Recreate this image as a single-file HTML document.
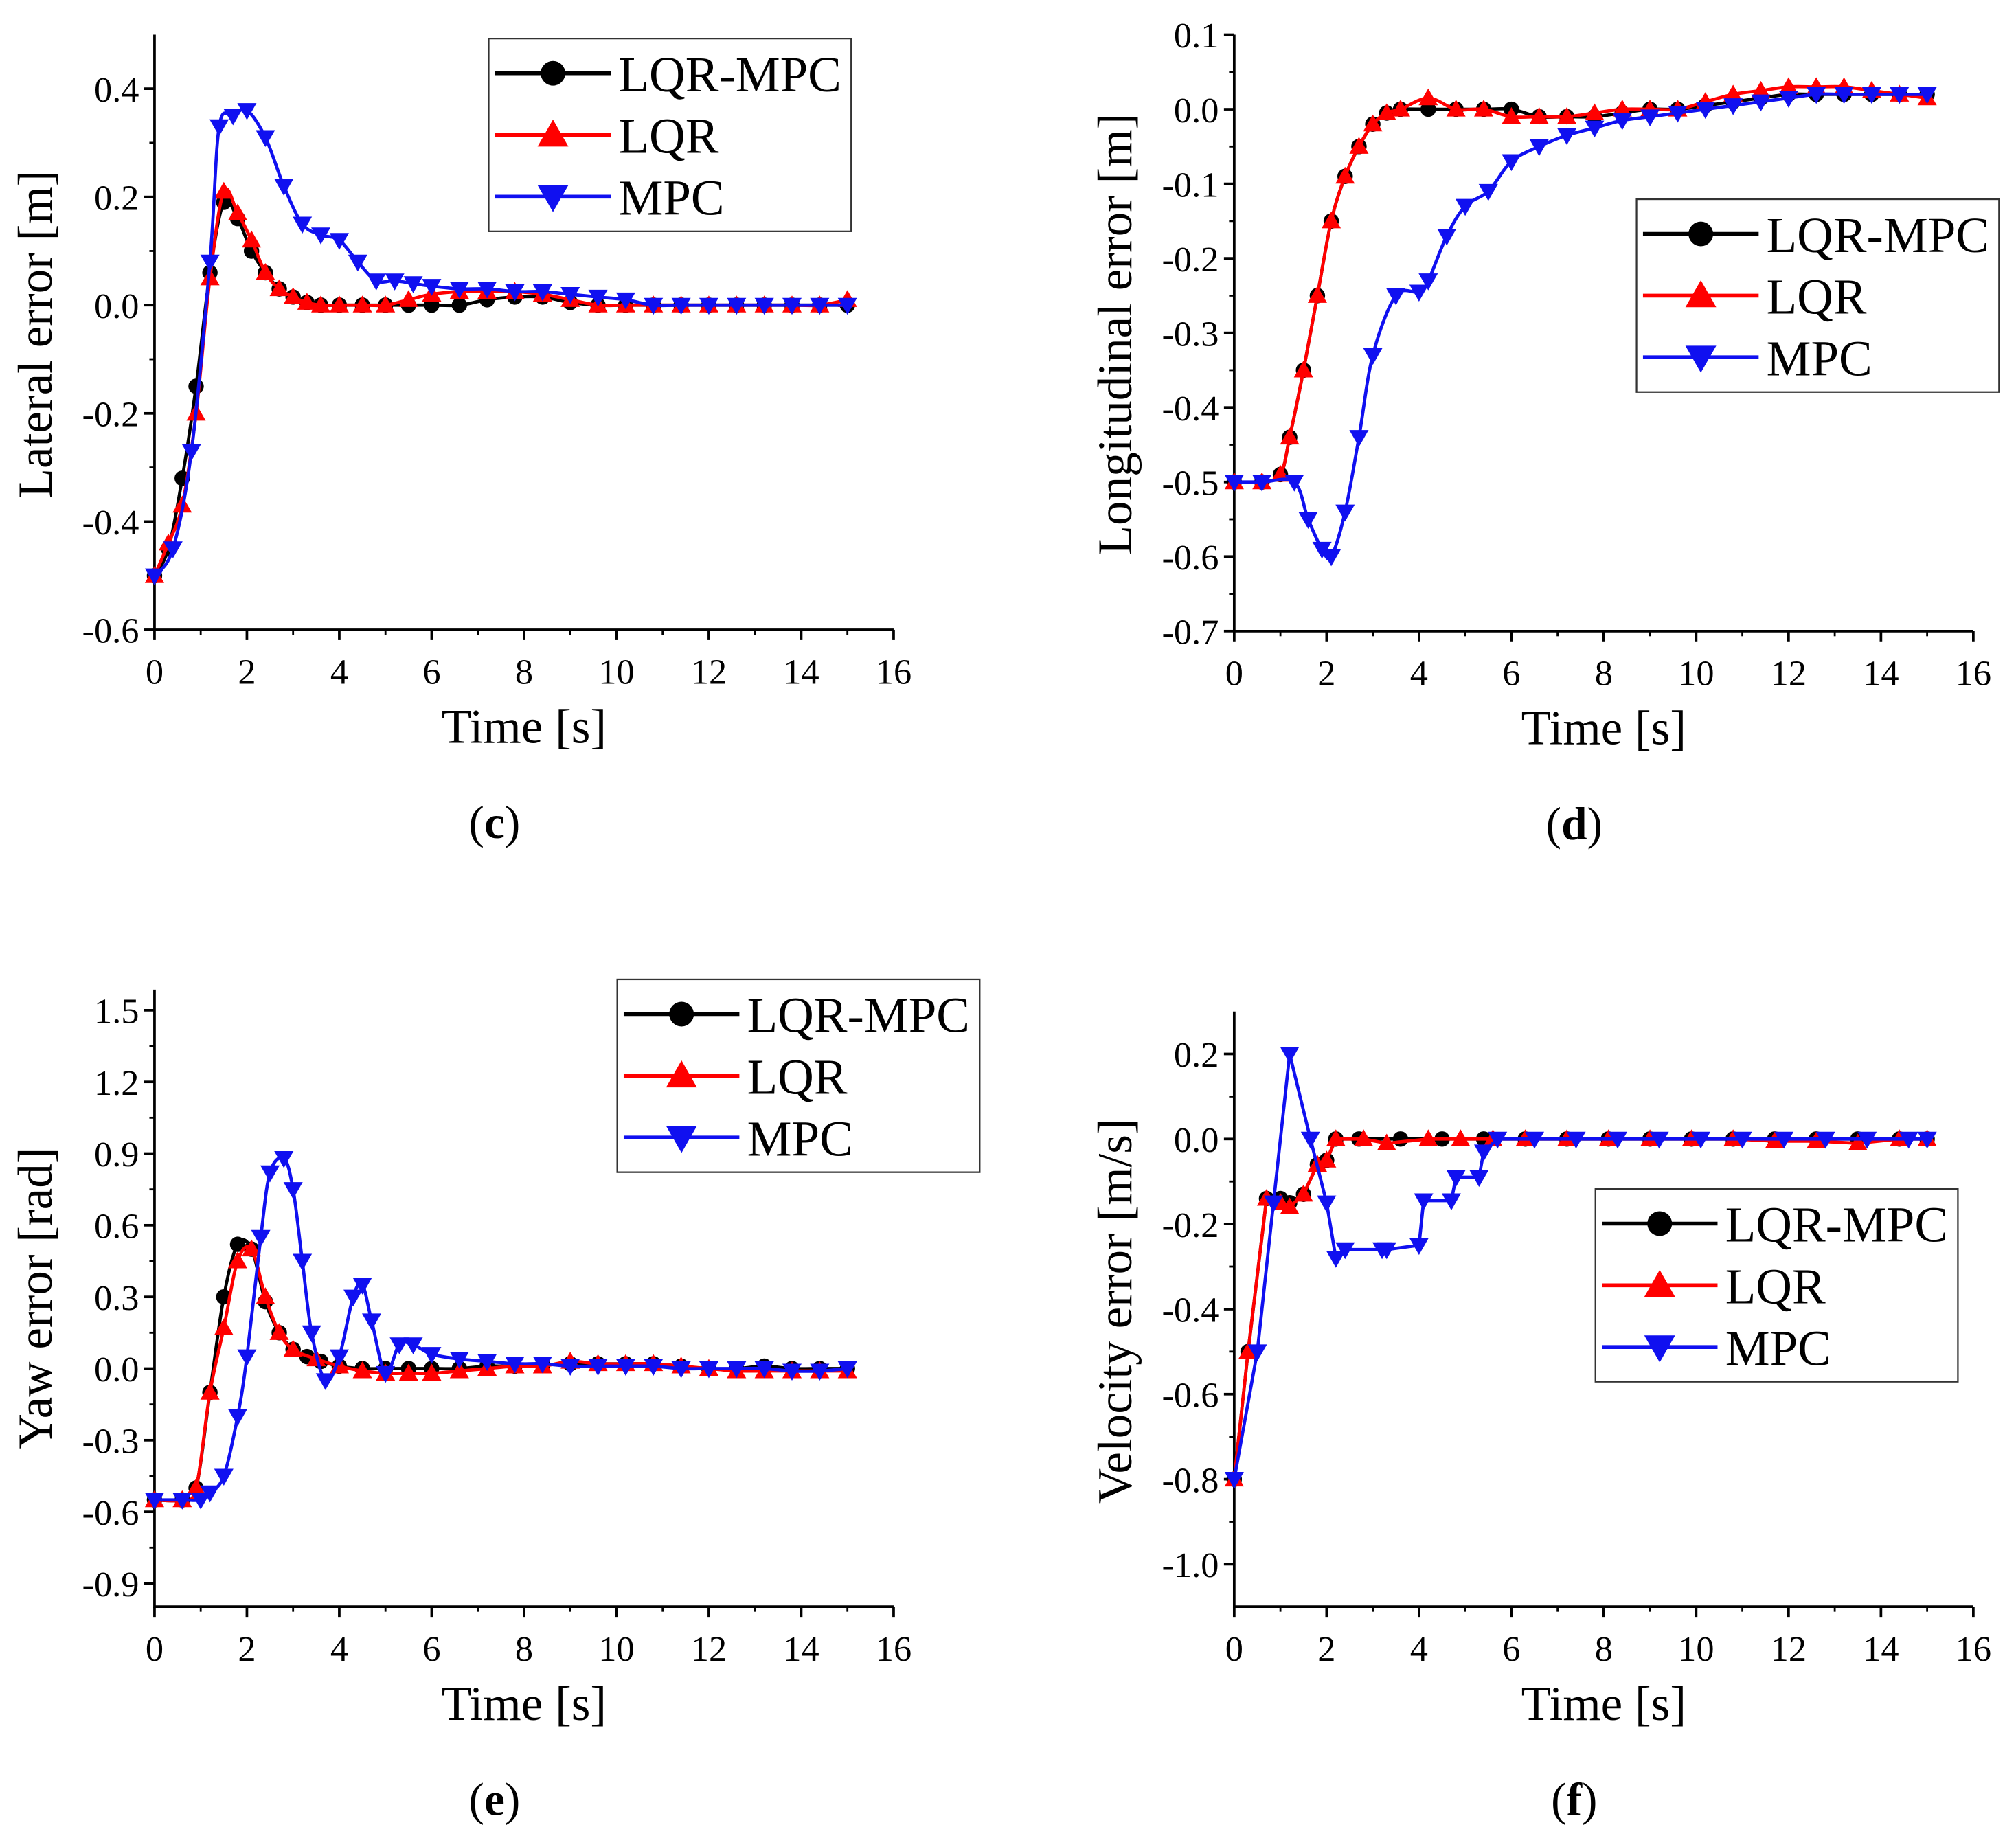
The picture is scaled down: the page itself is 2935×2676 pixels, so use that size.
<!DOCTYPE html>
<html><head><meta charset="utf-8"><style>
html,body{margin:0;padding:0;background:#fff;}
svg{display:block;font-family:"Liberation Serif",serif;}
</style></head><body>
<svg id="fig" width="2935" height="2676" viewBox="0 0 1568 1430" xmlns="http://www.w3.org/2000/svg"></svg>
<script>
// ---------- data ----------
const cBlackT=[0,0.3,0.6,0.9,1.2,1.5,1.8,2.1,2.4,2.7,3,3.3,3.6,4,4.5,5,5.5,6,6.6,7.2,7.8,8.4,9,9.6,10.2,10.8,11.4,12,12.6,13.2,13.8,14.4,15];
const cBlackV=[-0.5,-0.45,-0.32,-0.15,0.06,0.19,0.16,0.1,0.06,0.03,0.015,0.005,0,0,0,0,0,0,0,0.01,0.015,0.015,0.005,0,0,0,0,0,0,0,0,0,0];
const cRedT=[0,0.3,0.6,0.9,1.2,1.5,1.8,2.1,2.4,2.7,3,3.3,3.6,4,4.5,5,5.5,6,6.6,7.2,7.8,8.4,9,9.6,10.2,10.8,11.4,12,12.6,13.2,13.8,14.4,15];
const cRedV=[-0.5,-0.44,-0.37,-0.2,0.05,0.21,0.17,0.12,0.06,0.03,0.015,0.005,0,0,0,0,0.01,0.02,0.025,0.025,0.025,0.02,0.01,0,0,0,0,0,0,0,0,0,0.01];
const cBlueT=[0,0.4,0.8,1.2,1.4,1.7,2,2.4,2.8,3.2,3.6,4,4.4,4.8,5.2,5.6,6,6.6,7.2,7.8,8.4,9,9.6,10.2,10.8,11.4,12,12.6,13.2,13.8,14.4,15];
const cBlueV=[-0.5,-0.45,-0.27,0.08,0.33,0.35,0.36,0.31,0.22,0.15,0.13,0.12,0.08,0.045,0.045,0.04,0.035,0.03,0.03,0.025,0.025,0.02,0.015,0.01,0,0,0,0,0,0,0,0];

const dBlackT=[0,0.6,1.0,1.2,1.5,1.8,2.1,2.4,2.7,3,3.3,3.6,4.2,4.8,5.4,6,6.6,7.2,7.8,8.4,9,9.6,10.2,10.8,11.4,12,12.6,13.2,13.8,14.4,15];
const dBlackV=[-0.5,-0.5,-0.49,-0.44,-0.35,-0.25,-0.15,-0.09,-0.05,-0.02,-0.005,0,0,0,0,0,-0.01,-0.01,-0.01,-0.005,0,0,0.005,0.01,0.015,0.02,0.02,0.02,0.02,0.02,0.02];
const dRedT=[0,0.6,1.0,1.2,1.5,1.8,2.1,2.4,2.7,3,3.3,3.6,4.2,4.8,5.4,6,6.6,7.2,7.8,8.4,9,9.6,10.2,10.8,11.4,12,12.6,13.2,13.8,14.4,15];
const dRedV=[-0.5,-0.5,-0.49,-0.44,-0.35,-0.25,-0.15,-0.09,-0.05,-0.02,-0.005,0,0.015,0,0,-0.01,-0.01,-0.01,-0.005,0,0,0,0.01,0.02,0.025,0.03,0.03,0.03,0.025,0.02,0.015];
const dBlueT=[0,0.6,1.3,1.6,1.9,2.1,2.4,2.7,3,3.5,4,4.2,4.6,5,5.5,6,6.6,7.2,7.8,8.4,9,9.6,10.2,10.8,11.4,12,12.6,13.2,13.8,14.4,15];
const dBlueV=[-0.5,-0.5,-0.5,-0.55,-0.59,-0.6,-0.54,-0.44,-0.33,-0.25,-0.245,-0.23,-0.17,-0.13,-0.11,-0.07,-0.05,-0.035,-0.025,-0.015,-0.01,-0.005,0,0.005,0.01,0.015,0.02,0.02,0.02,0.02,0.02];

const eBlackT=[0,0.6,0.9,1.2,1.5,1.8,2.1,2.4,2.7,3,3.3,3.6,4,4.5,5,5.5,6,6.6,7.2,7.8,8.4,9,9.6,10.2,10.8,11.4,12,12.6,13.2,13.8,14.4,15];
const eBlackV=[-0.55,-0.55,-0.5,-0.1,0.3,0.52,0.5,0.28,0.15,0.08,0.05,0.03,0.01,0,0,0,0,0,0.01,0.01,0.015,0.02,0.02,0.02,0.02,0.01,0,0,0.01,0,0,0];
const eRedT=[0,0.6,0.9,1.2,1.5,1.8,2.1,2.4,2.7,3,3.5,4,4.5,5,5.5,6,6.6,7.2,7.8,8.4,9,9.6,10.2,10.8,11.4,12,12.6,13.2,13.8,14.4,15];
const eRedV=[-0.55,-0.55,-0.5,-0.1,0.17,0.45,0.5,0.3,0.15,0.08,0.04,0.01,-0.01,-0.02,-0.02,-0.02,-0.01,0,0.01,0.01,0.03,0.02,0.02,0.02,0.01,0,-0.01,-0.01,-0.01,-0.01,-0.01];
const eBlueT=[0,0.6,1.0,1.2,1.5,1.8,2.0,2.3,2.5,2.8,3.0,3.2,3.4,3.7,4.0,4.3,4.5,4.7,5,5.3,5.6,6,6.6,7.2,7.8,8.4,9,9.6,10.2,10.8,11.4,12,12.6,13.2,13.8,14.4,15];
const eBlueV=[-0.55,-0.55,-0.55,-0.52,-0.45,-0.2,0.05,0.55,0.82,0.88,0.75,0.45,0.15,-0.05,0.05,0.3,0.35,0.2,-0.02,0.1,0.1,0.06,0.04,0.03,0.02,0.02,0.01,0.01,0.01,0.01,0,0,0,0,-0.01,-0.01,0];

const fBlackT=[0,0.3,0.7,1.0,1.2,1.5,1.8,2.0,2.2,2.7,3.6,4.5,5.4,6.3,7.2,8.1,9,9.9,10.8,11.7,12.6,13.5,14.4,15];
const fBlackV=[-0.8,-0.5,-0.14,-0.14,-0.15,-0.13,-0.06,-0.05,0,0,0,0,0,0,0,0,0,0,0,0,0,0,0,0];
const fRedT=[0,0.3,0.7,1.0,1.2,1.5,1.8,2.0,2.2,2.8,3.3,4.2,4.9,5.6,6.3,7.2,8.1,9,9.9,10.8,11.7,12.6,13.5,14.4,15];
const fRedV=[-0.8,-0.5,-0.14,-0.15,-0.16,-0.13,-0.06,-0.05,0,0,-0.01,0,0,0,0,0,0,0,0,0,-0.005,-0.005,-0.01,0,0];
const fBlueT=[0,0.5,0.85,1.2,1.65,2.0,2.2,2.4,3.2,3.3,4.0,4.1,4.7,4.8,5.3,5.4,5.7,6.5,7.4,8.3,9.2,10.1,11,11.9,12.8,13.7,14.6,15];
const fBlueV=[-0.8,-0.5,-0.15,0.2,0.0,-0.15,-0.28,-0.26,-0.26,-0.26,-0.25,-0.145,-0.145,-0.09,-0.09,-0.03,0,0,0,0,0,0,0,0,0,0,0,0];

const xTicks=[0,2,4,6,8,10,12,14,16];
const cYTicks=[-0.6,-0.4,-0.2,0.0,0.2,0.4];
const dYTicks=[-0.7,-0.6,-0.5,-0.4,-0.3,-0.2,-0.1,0.0,0.1];
const eYTicks=[-0.9,-0.6,-0.3,0.0,0.3,0.6,0.9,1.2,1.5];
const fYTicks=[-1.0,-0.8,-0.6,-0.4,-0.2,0.0,0.2];
const seriesNames=["LQR-MPC","LQR","MPC"];

// ---------- rendering ----------
const NS="http://www.w3.org/2000/svg";
const svg=document.getElementById('fig');
function mk(tag,attrs,parent){const e=document.createElementNS(NS,tag);for(const k in attrs)e.setAttribute(k,attrs[k]);(parent||svg).appendChild(e);return e;}
const colors=["#000","#f00","#1010f0"];

function smoothPath(pts,smooth){
  if(!smooth){return "M"+pts.map(p=>p[0].toFixed(2)+","+p[1].toFixed(2)).join("L");}
  let d="M"+pts[0][0]+","+pts[0][1];
  for(let i=0;i<pts.length-1;i++){
    const p0=pts[Math.max(0,i-1)],p1=pts[i],p2=pts[i+1],p3=pts[Math.min(pts.length-1,i+2)];
    const c1=[p1[0]+(p2[0]-p0[0])/6,p1[1]+(p2[1]-p0[1])/6];
    const c2=[p2[0]-(p3[0]-p1[0])/6,p2[1]-(p3[1]-p1[1])/6];
    d+="C"+c1[0].toFixed(2)+","+c1[1].toFixed(2)+" "+c2[0].toFixed(2)+","+c2[1].toFixed(2)+" "+p2[0].toFixed(2)+","+p2[1].toFixed(2);
  }
  return d;
}
function marker(g,type,x,y,col,s){
  let m;
  if(type===0){m=mk('circle',{cx:x,cy:y,r:s*0.8,fill:col},g);}
  else if(type===1){m=mk('polygon',{points:`${x},${y-s} ${x-s},${y+s*0.75} ${x+s},${y+s*0.75}`,fill:col},g);}
  else {m=mk('polygon',{points:`${x},${y+s} ${x-s},${y-s*0.75} ${x+s},${y-s*0.75}`,fill:col},g);}
  return m;
}

function panel(p){
  const g=mk('g',{});
  
  
  const X=t=>p.x0+(t-0)*(p.x1-p.x0)/16;
  const Y=v=>p.yA+(v-p.vA)*(p.yB-p.yA)/(p.vB-p.vA);
  const ax=mk('path',{d:`M${p.x0},${p.top}V${p.bottom}H${p.x1}`,stroke:'#000','stroke-width':2,fill:'none'},g);
  
  
  xTicks.forEach((t,i)=>{
    mk('line',{x1:X(t),x2:X(t),y1:p.bottom,y2:p.bottom+8,stroke:'#000','stroke-width':2},g);
    if(i<xTicks.length-1)mk('line',{x1:X(t+1),x2:X(t+1),y1:p.bottom,y2:p.bottom+4,stroke:'#000','stroke-width':1.5},g);
    const tx=mk('text',{x:X(t),y:p.bottom+42,'font-size':28,'text-anchor':'middle'},g);
    tx.textContent=t;
    
    
  });
  const step=p.ticks[1]-p.ticks[0];
  p.ticks.forEach((v,i)=>{
    mk('line',{x1:p.x0-8,x2:p.x0,y1:Y(v),y2:Y(v),stroke:'#000','stroke-width':2},g);
    if(i<p.ticks.length-1)mk('line',{x1:p.x0-4,x2:p.x0,y1:Y(v+step/2),y2:Y(v+step/2),stroke:'#000','stroke-width':1.5},g);
    const tx=mk('text',{x:p.x0-12,y:Y(v)+10,'font-size':28,'text-anchor':'end'},g);
    tx.textContent=v.toFixed(1);
    
    
  });
  const xt=mk('text',{x:(p.x0+p.x1)/2,y:p.bottom+88,'font-size':38,'text-anchor':'middle'},g);
  xt.textContent='Time [s]';
  
  
  const yt=mk('text',{x:0,y:0,'font-size':38,'text-anchor':'middle',transform:`translate(${p.ylx},${p.yly}) rotate(-90)`},g);
  yt.textContent=p.ylabel;
  
  
  const cap=mk('text',{x:(p.x0+p.x1)/2-23,y:p.bottom+162,'font-size':36,'text-anchor':'middle'},g);
  cap.innerHTML='(<tspan font-weight="bold">'+p.id+'</tspan>)';
  
  
  p.series.forEach((s,k)=>{
    const sg=mk('g',{},g);
    
    
    const pts=s[0].map((t,i)=>[X(t),Y(s[1][i])]);
    mk('path',{d:smoothPath(pts,p.smooth),stroke:colors[k],'stroke-width':2.5,fill:'none'},sg);
    pts.forEach(pt=>{
      const m=marker(sg,k,pt[0],pt[1],colors[k],7.5);
      
      
    });
  });
  const lg=mk('g',{},g);
  
  
  mk('rect',{x:p.lx,y:p.ly,width:282,height:150,fill:'#fff',stroke:'#333','stroke-width':1.2},lg);
  seriesNames.forEach((n,k)=>{
    const yy=p.ly+27+k*48;
    const e=mk('g',{},lg);
    
    
    mk('line',{x1:p.lx+5,x2:p.lx+95,y1:yy,y2:yy,stroke:colors[k],'stroke-width':3},e);
    marker(e,k,p.lx+50,yy,colors[k],12);
    const t=mk('text',{x:p.lx+101,y:yy+14,'font-size':39},e);
    t.textContent=n;
  });
}

panel({id:'c',x0:120,x1:695,top:27,bottom:490,vA:0.4,yA:69,vB:-0.6,yB:490,ticks:cYTicks,ylabel:'Lateral error [m]',ylx:40,yly:260,smooth:true,lx:380,ly:30,
  series:[[cBlackT,cBlackV],[cRedT,cRedV],[cBlueT,cBlueV]]});
panel({id:'d',x0:960,x1:1535,top:27,bottom:491,vA:0.1,yA:27,vB:-0.7,yB:491,ticks:dYTicks,ylabel:'Longitudinal error [m]',ylx:880,yly:260,smooth:true,lx:1273,ly:155,
  series:[[dBlackT,dBlackV],[dRedT,dRedV],[dBlueT,dBlueV]]});
panel({id:'e',x0:120,x1:695,top:770,bottom:1250,vA:1.5,yA:786,vB:-0.9,yB:1232,ticks:eYTicks,ylabel:'Yaw error [rad]',ylx:40,yly:1010,smooth:true,lx:480,ly:762,
  series:[[eBlackT,eBlackV],[eRedT,eRedV],[eBlueT,eBlueV]]});
panel({id:'f',x0:960,x1:1535,top:787,bottom:1250,vA:0.2,yA:820,vB:-1.0,yB:1217,ticks:fYTicks,ylabel:'Velocity error [m/s]',ylx:880,yly:1020,smooth:false,lx:1241,ly:925,
  series:[[fBlackT,fBlackV],[fRedT,fRedV],[fBlueT,fBlueV]]});
</script>
</body></html>
